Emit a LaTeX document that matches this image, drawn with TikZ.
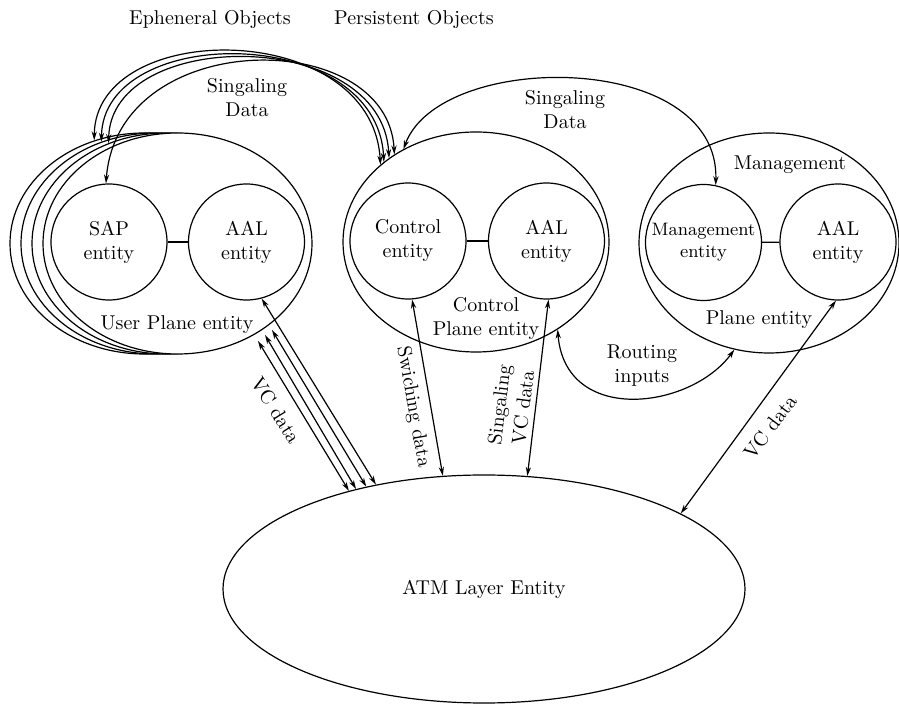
\documentclass[tikz,border=0pt]{standalone}
\usetikzlibrary{shapes.geometric,arrows.meta}
\begin{document}
\begin{tikzpicture}[x=0.5pt,y=0.5pt,line width=0.6pt,
    >={Stealth[length=4.5pt,width=2.6pt]},
    entity/.style={circle,draw,fill=white,minimum size=58pt,inner sep=0pt,align=center},
    plane/.style={ellipse,draw,fill=white,inner sep=0pt},
    lbl/.style={align=center,inner sep=1pt}]

  \useasboundingbox (0,0) rectangle (899,-704);

  \node (ephem) at (210,-20) {Epheneral Objects};
  \node (persist) at (414,-20) {Persistent Objects};

  % user plane, one behind the other
  \foreach \k in {3,2,1}{
    \node[plane,minimum width=134.5pt,minimum height=110.5pt] (userB\k) at ({177.5-11*\k},-243.5) {};
  }
  \node[plane,minimum width=134.5pt,minimum height=110.5pt] (user) at (177.5,-243.5) {};
  \node[entity] (sap) at (109,-242) {SAP\\entity};
  \node[entity] (aalU) at (246.5,-242) {AAL\\entity};
  \draw (sap) -- (aalU);
  \node[lbl] (userL) at (177,-325) {User Plane entity};

  % control plane
  \node[plane,minimum width=133pt,minimum height=110pt] (ctrlP) at (476,-242) {};
  \node[entity] (ctrl) at (408,-241) {Control\\entity};
  \node[entity] (aalC) at (546.5,-241) {AAL\\entity};
  \draw (ctrl) -- (aalC);
  \node[lbl] (ctrlL) at (486,-319) {Control\\Plane entity};

  % management plane
  \node[plane,minimum width=130pt,minimum height=110pt] (mgmtP) at (769,-243) {};
  \node[entity,font=\small] (mgmt) at (703.5,-242.5) {Management\\entity};
  \node[entity] (aalM) at (838,-242) {AAL\\entity};
  \draw (mgmt) -- (aalM);
  \node[lbl] (mgmtT) at (790,-165) {Management};
  \node[lbl] (mgmtL) at (759,-320) {Plane entity};

  \node[plane,minimum width=261pt,minimum height=114pt] (atm) at (484,-589) {ATM Layer Entity};

  % signaling between the planes
  \foreach \s/\e/\ca/\cb/\cy in {userB3.116/141/95/372/18, userB2.118/139/103/377/23,
      userB1.120/136.5/111/382/27, sap.93/133/118/388/26}
    \draw[<->] (\s) .. controls (\ca,-\cy) and (\cb,-\cy) .. (ctrlP.\e);
  \node[lbl] (sigL) at (247,-98) {Singaling\\Data};

  \draw[<->] (ctrlP.128) .. controls (440,-50) and (720,-50) .. (mgmt.78);
  \node[lbl] (sigM) at (565,-110) {Singaling\\Data};

  \draw[<->] (ctrlP.-47) .. controls (565,-425) and (690,-410) .. (mgmtP.-108);
  \node[lbl] (route) at (642,-366) {Routing\\inputs};

  % VC data down to the ATM layer
  \draw[<->] (aalU.-75) -- (atm.136);
  \foreach \k/\tx/\ty/\e in {1/272/330/139, 2/265/335/142, 3/258/341/144.5}{
    \coordinate (vcT\k) at (\tx,-\ty);
    \draw[<->] (vcT\k) -- (atm.\e);
  }
  \node[lbl,rotate=-58] (vcU) at (276,-410) {VC data};

  \draw[<->] (ctrl.-86) -- (atm.110);
  \node[lbl,rotate=-80] (swL) at (413,-407) {Swiching data};

  \draw[<->] (aalC.-88) -- (atm.69);
  \node[lbl,rotate=83] (sigV) at (511,-406) {Singaling\\VC data};

  \draw[<->] (aalM.-92) -- (atm.21);
  \node[lbl,rotate=53] (vcM) at (770,-427) {VC data};

\end{tikzpicture}
\end{document}
